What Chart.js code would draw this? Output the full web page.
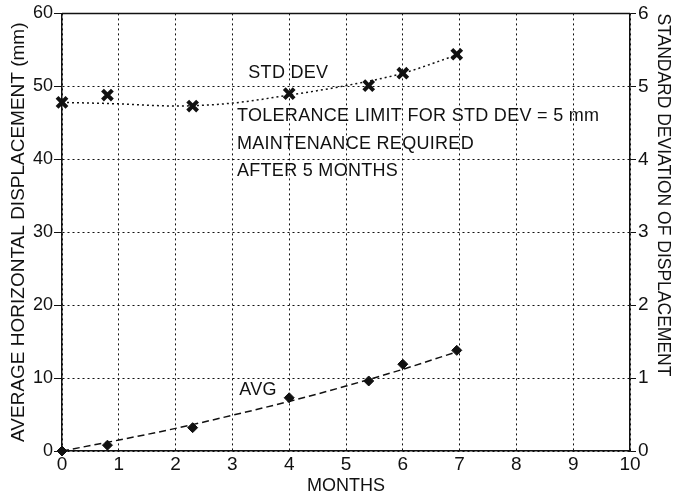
<!DOCTYPE html>
<html>
<head>
<meta charset="utf-8">
<script src="https://cdn.jsdelivr.net/npm/chart.js@4/dist/chart.umd.min.js"></script>
<style>
  html, body { margin: 0; padding: 0; background: #fff; }
  #wrap { width: 673px; height: 502px; }
</style>
</head>
<body>
<div id="wrap"><canvas id="chart"></canvas></div>
<script>
  'use strict';

  // measured points (months)
  var months = [0, 0.8, 2.3, 4, 5.4, 6, 6.95];
  var avgValues = [0, 0.8, 3.2, 7.3, 9.6, 11.9, 13.8];       // mm, left axis
  var stdValues = [4.78, 4.88, 4.73, 4.9, 5.01, 5.18, 5.44];  // mm, right axis

  // fitted curves
  var fitMonths = [0, 1, 2, 3, 4, 5, 6, 6.95];
  var avgFit = [0, 1.5, 3.1, 4.9, 6.8, 8.9, 11.2, 13.6];
  var stdFit = [4.78, 4.76, 4.73, 4.77, 4.88, 5.01, 5.18, 5.43];

  var xTicks = [0, 1, 2, 3, 4, 5, 6, 7, 8, 9, 10];
  var leftTicks = [0, 10, 20, 30, 40, 50, 60];
  var rightTicks = [0, 1, 2, 3, 4, 5, 6];

  var notes = [
    'TOLERANCE LIMIT FOR STD DEV = 5 mm',
    'MAINTENANCE REQUIRED',
    'AFTER 5 MONTHS'
  ];

  var ink = '#111';
  var fontFamily = '"Liberation Sans", Arial, Helvetica, sans-serif';

  function pairs(xs, ys) {
    return xs.map(function (x, i) { return {x: x, y: ys[i]}; });
  }

  // top frame line + text labels inside the plot
  var extras = {
    id: 'extras',
    afterDraw: function (chart) {
      var ctx = chart.ctx;
      var area = chart.chartArea;
      var x = chart.scales.x;
      var y = chart.scales.y;
      var y2 = chart.scales.y2;

      ctx.save();
      ctx.strokeStyle = ink;
      ctx.lineWidth = 1.5;
      ctx.beginPath();
      ctx.moveTo(area.left, area.top);
      ctx.lineTo(area.right, area.top);
      ctx.stroke();

      ctx.fillStyle = ink;
      ctx.font = '18px ' + fontFamily;
      ctx.textAlign = 'left';
      ctx.textBaseline = 'alphabetic';
      if ('letterSpacing' in ctx) ctx.letterSpacing = '0.3px';

      ctx.fillText('STD DEV', x.getPixelForValue(3.28), y2.getPixelForValue(5.11));
      for (var i = 0; i < notes.length; i++) {
        ctx.fillText(notes[i], x.getPixelForValue(3.08), y2.getPixelForValue(4.52 - i * 0.377));
      }
      ctx.fillText('AVG', x.getPixelForValue(3.12), y.getPixelForValue(7.67));
      ctx.restore();
    }
  };

  var ctx = document.getElementById('chart').getContext('2d');
  window.displacementChart = new Chart(ctx, {
    type: 'scatter',
    data: {
      datasets: [
        {
          label: 'AVG fit',
          data: pairs(fitMonths, avgFit),
          yAxisID: 'y',
          showLine: true,
          borderColor: ink,
          borderWidth: 1.5,
          borderDash: [7, 4],
          pointRadius: 0,
          tension: 0.4,
          cubicInterpolationMode: 'monotone'
        },
        {
          label: 'AVG',
          data: pairs(months, avgValues),
          yAxisID: 'y',
          clip: false,
          pointStyle: 'rectRot',
          pointRadius: 5,
          backgroundColor: ink,
          borderColor: ink,
          borderWidth: 1
        },
        {
          label: 'STD DEV fit',
          data: pairs(fitMonths, stdFit),
          yAxisID: 'y2',
          showLine: true,
          borderColor: ink,
          borderWidth: 1.5,
          borderDash: [2, 3],
          pointRadius: 0,
          tension: 0.4,
          cubicInterpolationMode: 'monotone'
        },
        {
          label: 'STD DEV',
          data: pairs(months, stdValues),
          yAxisID: 'y2',
          clip: false,
          pointStyle: 'crossRot',
          pointRadius: 7,
          borderColor: ink,
          borderWidth: 4
        }
      ]
    },
    options: {
      responsive: true,
      maintainAspectRatio: false,
      animation: false,
      layout: { padding: { top: 13, left: 0, right: 0, bottom: 0 } },
      plugins: {
        legend: { display: false },
        tooltip: { enabled: false }
      },
      scales: {
        x: {
          type: 'linear',
          min: 0,
          max: 10,
          afterBuildTicks: function (axis) {
            axis.ticks = xTicks.map(function (v) { return {value: v}; });
          },
          afterFit: function (axis) { axis.height = 51; },
          grid: { color: ink, lineWidth: 1, drawTicks: false },
          border: { color: ink, width: 1.5, dash: [2, 3] },
          ticks: { color: ink, padding: 2, font: { family: fontFamily, size: 19 } },
          title: {
            display: true,
            text: 'MONTHS',
            color: ink,
            padding: { top: 0, bottom: 5 },
            font: { family: fontFamily, size: 18 }
          }
        },
        y: {
          type: 'linear',
          position: 'left',
          min: 0,
          max: 60,
          afterBuildTicks: function (axis) {
            axis.ticks = leftTicks.map(function (v) { return {value: v}; });
          },
          afterFit: function (axis) { axis.width = 62; },
          grid: { color: ink, lineWidth: 1, tickLength: 8, tickColor: ink, tickBorderDash: [] },
          border: { color: ink, width: 1.5, dash: [2, 3] },
          ticks: { color: ink, padding: 1, font: { family: fontFamily, size: 18 } },
          title: {
            display: true,
            text: 'AVERAGE HORIZONTAL DISPLACEMENT (mm)',
            color: ink,
            padding: { top: 7, bottom: 0 },
            font: { family: fontFamily, size: 19 }
          }
        },
        y2: {
          type: 'linear',
          position: 'right',
          min: 0,
          max: 6,
          afterBuildTicks: function (axis) {
            axis.ticks = rightTicks.map(function (v) { return {value: v}; });
          },
          afterFit: function (axis) { axis.width = 43; },
          grid: { drawOnChartArea: false, tickLength: 6, tickColor: ink, tickBorderDash: [] },
          border: { color: ink, width: 1.5 },
          ticks: { color: ink, padding: 2, font: { family: fontFamily, size: 19 } },
          title: {
            display: true,
            text: 'STANDARD DEVIATION OF DISPLACEMENT',
            color: ink,
            align: 'end',
            padding: { top: 0, bottom: 0 },
            font: { family: fontFamily, size: 17.5 }
          }
        }
      }
    },
    plugins: [extras]
  });
</script>
</body>
</html>
